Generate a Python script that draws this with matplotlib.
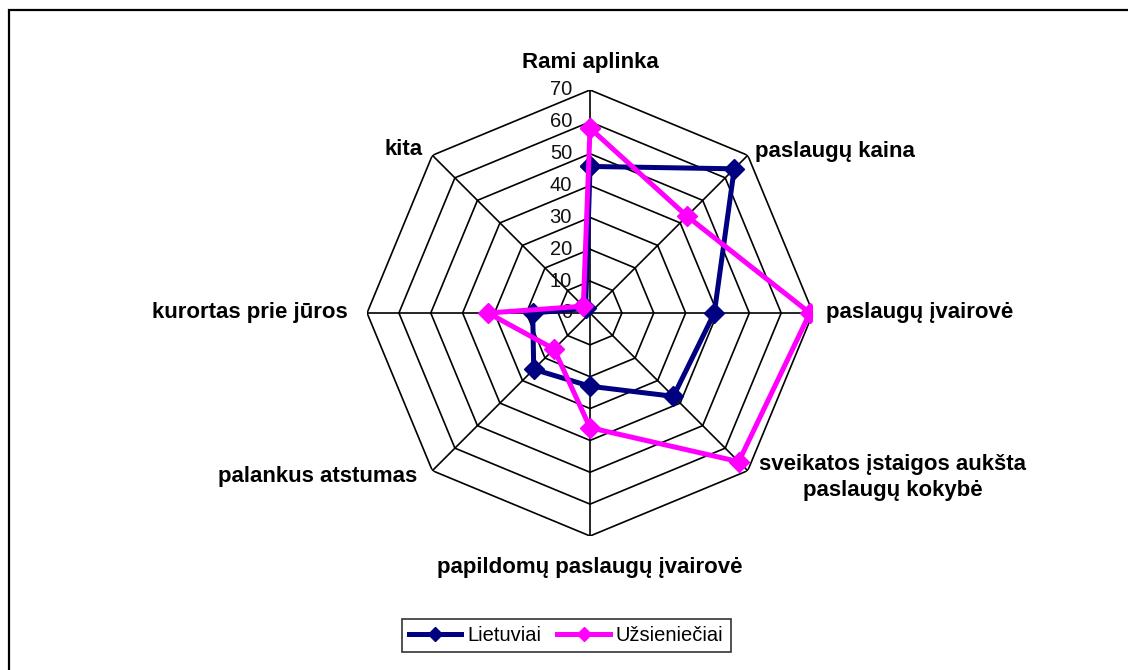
import numpy as np
import matplotlib
matplotlib.use('Agg')
from matplotlib import pyplot as plt
from matplotlib.patches import Rectangle

plt.rcParams['font.family'] = ['Liberation Sans', 'DejaVu Sans']

categories = ['Rami aplinka', 'paslaugų kaina', 'paslaugų įvairovė',
              'sveikatos įstaigos aukšta\npaslaugų kokybė',
              'papildomų paslaugų įvairovė', 'palankus atstumas',
              'kurortas prie jūros', 'kita']
lietuviai = [46, 64, 39, 37, 23, 25, 18, 2]
uzsienieciai = [58, 43, 69, 66, 36, 16, 32, 3]
levels = [0, 10, 20, 30, 40, 50, 60, 70]

# label offsets in points (ha, va, dx, dy)
label_style = [
    ('center', 'center', 0, 20),
    ('left', 'center', 5, 3),
    ('left', 'center', 9, 0),
    ('left', 'center', 8, -5),
    ('center', 'center', 0, -23),
    ('right', 'center', -11, -4),
    ('right', 'center', -14, 0),
    ('right', 'center', -7, 4),
]

fig = plt.figure(figsize=(11.28, 6.7), dpi=100)
ax = fig.add_axes([0.3254, 0.2, 0.3954, 0.6657], projection='polar')
ax.set_theta_offset(np.pi / 2)
ax.set_theta_direction(-1)
ax.set_ylim(0, max(levels))
ax.grid(False)
ax.set_xticks([])
ax.set_yticks([])
ax.spines['polar'].set_visible(False)
ax.patch.set_alpha(0)

n = len(categories)
angles = np.linspace(0, 2 * np.pi, n, endpoint=False)
closed = np.append(angles, angles[0])

# octagonal grid
for lv in levels[1:]:
    ax.plot(closed, [lv] * (n + 1), color='black', lw=1.2, zorder=1)
for a in angles:
    ax.plot([a, a], [0, levels[-1]], color='black', lw=1.2, zorder=1)

for lv in levels:
    ax.annotate(str(lv), xy=(0, lv), xytext=(-13, 0), textcoords='offset points',
                ha='right', va='center', fontsize=14.5, color='#111111', zorder=2)

ax.plot(closed, lietuviai + lietuviai[:1], color='#000080', lw=3.6,
        marker='D', markersize=10, label='Lietuviai', zorder=3)
ax.plot(closed, uzsienieciai + uzsienieciai[:1], color='#FF00FF', lw=3.6,
        marker='D', markersize=10.5, label='Užsieniečiai', zorder=4)

for a, name, (ha, va, dx, dy) in zip(angles, categories, label_style):
    ax.annotate(name, xy=(a, levels[-1]), xytext=(dx, dy), textcoords='offset points',
                ha=ha, va=va, multialignment='center', fontsize=16, fontweight='bold',
                linespacing=1.3, annotation_clip=False)

leg = fig.legend(loc='center', bbox_to_anchor=(0.502, 0.052), ncol=2, fontsize=14.5,
                 frameon=True, fancybox=False, edgecolor='black', handlelength=2.6,
                 columnspacing=0.8, handletextpad=0.3, borderpad=0.35, markerscale=0.7)
leg.get_frame().set_linewidth(1.2)

fig.patches.append(Rectangle((9 / 1128, -0.1), 1.2, 1 - 10 / 670 + 0.1,
                             transform=fig.transFigure, fill=False,
                             edgecolor='black', lw=1.6, zorder=0))

fig.savefig('out.png', dpi=100)
